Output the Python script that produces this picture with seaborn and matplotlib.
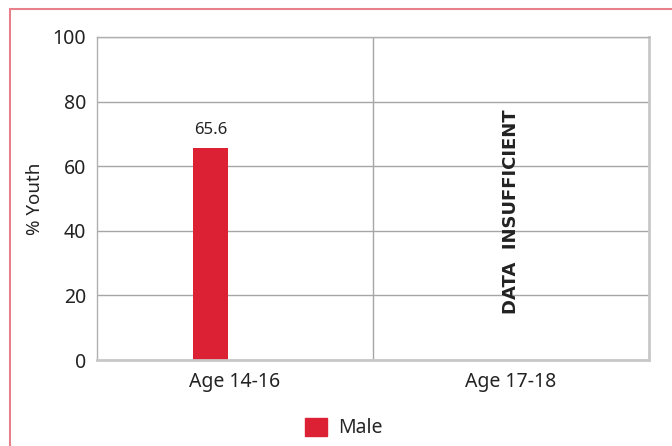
import pandas as pd
import seaborn as sns
import matplotlib.pyplot as plt
from matplotlib.patches import Rectangle, Patch

# Data
age_groups = ['Age 14-16', 'Age 17-18']
male_pct = [65.6, None]
y_ticks = [0, 20, 40, 60, 80, 100]

df = pd.DataFrame({'age': age_groups, 'pct': male_pct})

sns.set_style('white')
plt.rcParams['font.family'] = ['Noto Sans', 'DejaVu Sans']

fig = plt.figure(figsize=(6.72, 4.46), dpi=100)
ax = fig.add_axes([97 / 672, 1 - 360 / 446, (649 - 97) / 672, (360 - 37) / 446])

red = '#dc2135'
sns.barplot(x='age', y='pct', data=df, color=red, width=0.127, ax=ax,
            saturation=1, errorbar=None, linewidth=0)

# shift bar to the left of the category centre like the original
for p in ax.patches:
    p.set_x(p.get_x() - 0.089)

ax.set_ylim(0, 100)
ax.set_xlim(-0.5, 1.5)
ax.set_yticks(y_ticks)
ax.tick_params(axis='y', labelsize=14, length=0, pad=8, colors='#222222')
ax.tick_params(axis='x', labelsize=14, length=0, pad=9, colors='#222222')
ax.set_xlabel('')
ax.set_ylabel('% Youth', fontsize=13.5, color='#222222', labelpad=6)

ax.yaxis.grid(True, color='#a6a6a6', linewidth=1)
ax.axvline(0.5, color='#a6a6a6', linewidth=1)
for side in ['top', 'left']:
    ax.spines[side].set_color('#b0b0b0')
    ax.spines[side].set_linewidth(1)
for side in ['bottom', 'right']:
    ax.spines[side].set_color('#c8c8c8')
    ax.spines[side].set_linewidth(2)

# value label
for p, v in zip(ax.patches, male_pct):
    if v is not None:
        ax.text(p.get_x() + p.get_width() / 2, v + 3, f'{v}', ha='center',
                va='bottom', fontsize=12, color='#222222')

ax.text(1, 46, 'DATA  INSUFFICIENT', rotation=90, ha='center', va='center',
        fontsize=13, fontweight='bold', color='#222222', family='DejaVu Sans')

fig.legend(handles=[Patch(color=red, label='Male')], loc='center',
           bbox_to_anchor=(344 / 672, 1 - 428 / 446), frameon=False,
           fontsize=14, handlelength=1.1, handleheight=1.1, handletextpad=0.6)

# outer frame
fig.patches.append(Rectangle((9.5 / 672, -0.1), 2, 1 - 8.5 / 446 + 0.1,
                             transform=fig.transFigure, fill=False,
                             edgecolor='#e8808c', linewidth=1.5))

fig.savefig('out.png', dpi=100)
